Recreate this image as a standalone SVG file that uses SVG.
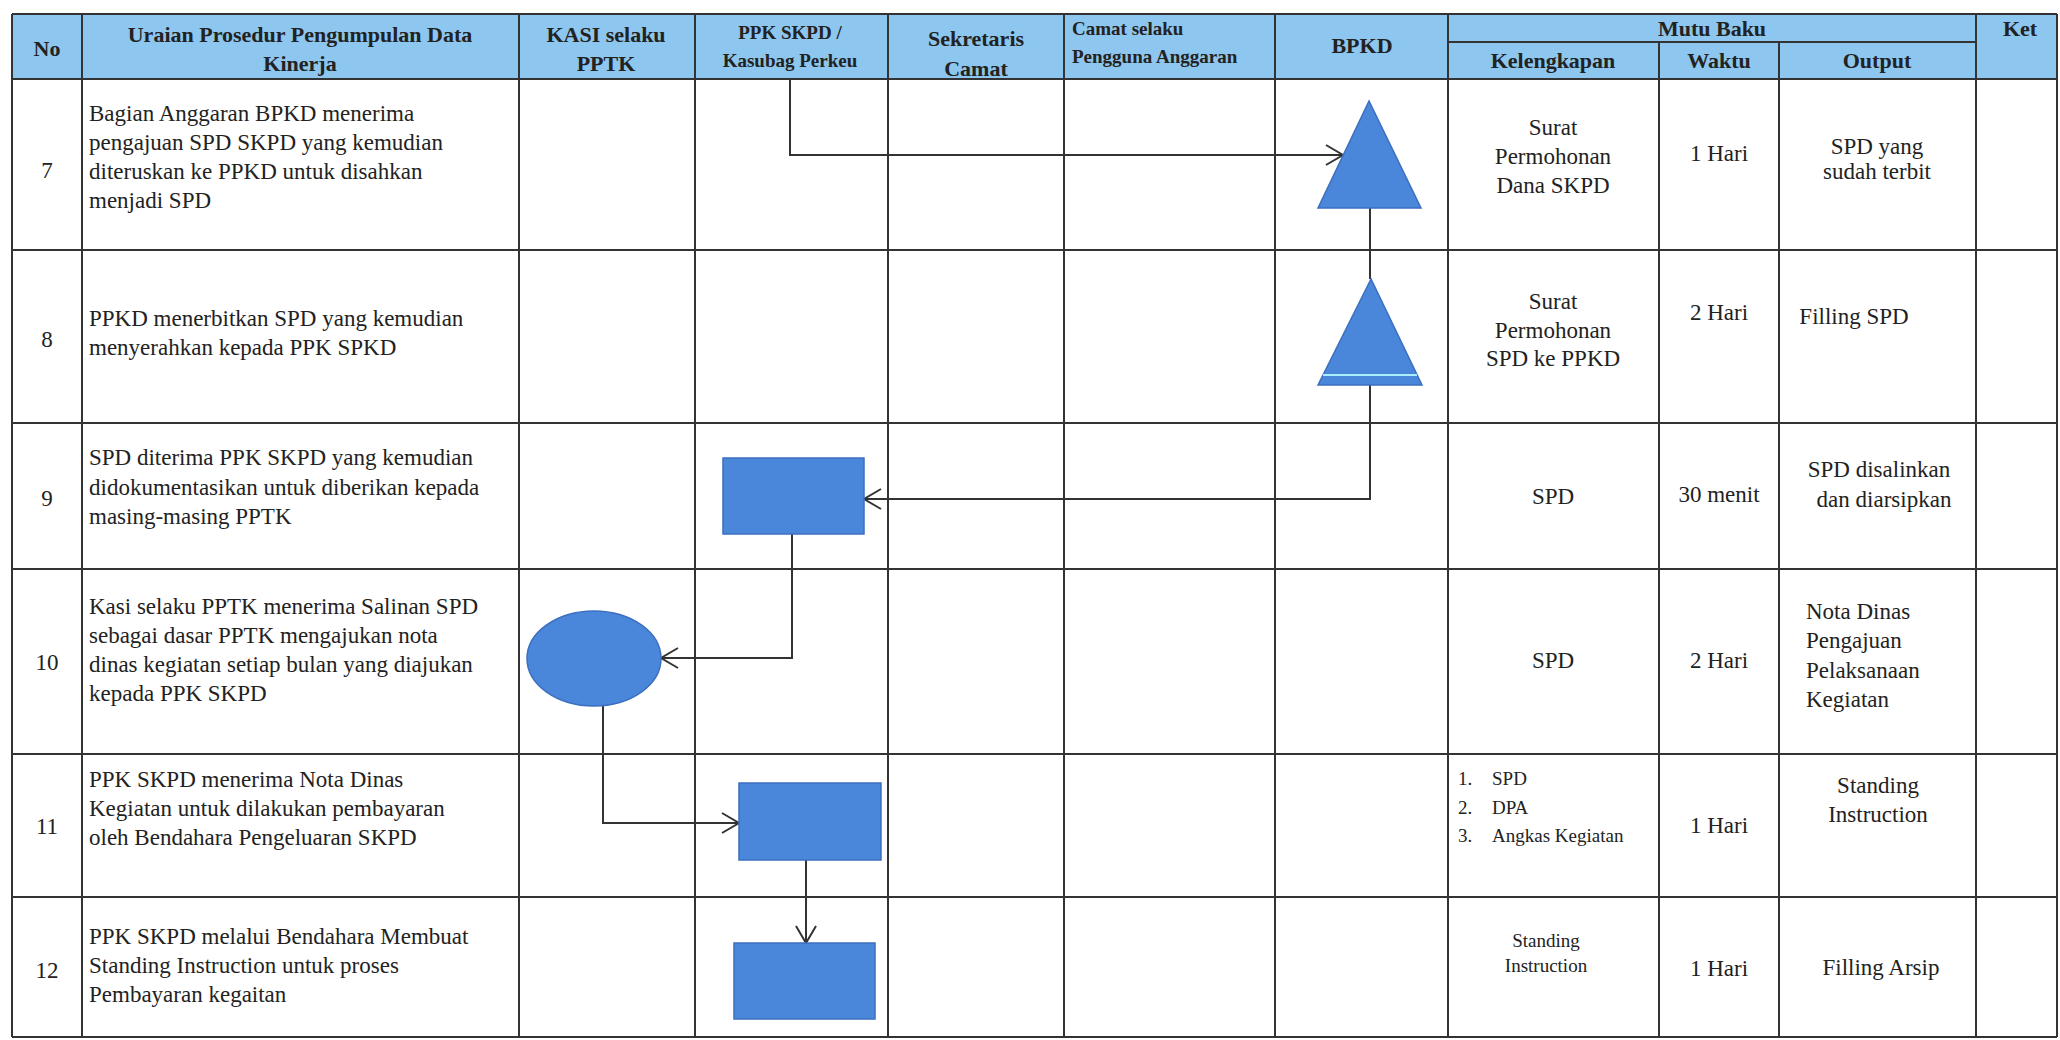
<svg xmlns="http://www.w3.org/2000/svg" width="2060" height="1040" viewBox="0 0 2060 1040">
<defs>
<style>
.grid{stroke:#333;stroke-width:2;fill:none}
.hd{font-family:"Liberation Serif","Times New Roman",serif;font-weight:bold;font-size:22px;fill:#222}
.hs{font-family:"Liberation Serif","Times New Roman",serif;font-weight:bold;font-size:19px;fill:#222}
.tx{font-family:"Liberation Serif","Times New Roman",serif;font-size:23px;fill:#222}
.sm{font-family:"Liberation Serif","Times New Roman",serif;font-size:19px;fill:#222}
.c{text-anchor:middle}
.shape{fill:#4A86DA;stroke:#3B6FBF;stroke-width:1.5}
.conn{stroke:#333;stroke-width:2;fill:none}
</style>
<marker id="arr" markerUnits="userSpaceOnUse" markerWidth="22" markerHeight="24" refX="18" refY="11" orient="auto">
<path d="M1,1 L18,11 L1,21" fill="none" stroke="#333" stroke-width="2"/>
</marker>
</defs>
<rect x="0" y="0" width="2060" height="1040" fill="#fff"/>
<g id="table">
<rect x="12" y="14" width="2045" height="65" fill="#8DC6EE"/>
<path class="grid" d="M12,14H2057 M1448,42H1976 M12,79H2057 M12,250H2057 M12,423H2057 M12,569H2057 M12,754H2057 M12,897H2057 M12,1037H2057 M12,14V1037 M82,14V1037 M519,14V1037 M695,14V1037 M888,14V1037 M1064,14V1037 M1275,14V1037 M1448,14V1037 M1659,42V1037 M1779,42V1037 M1976,14V1037 M2057,14V1037"/>
</g>
<g id="header">
<text class="hd c" x="47" y="56">No</text>
<text class="hd c" x="300" y="42">Uraian Prosedur Pengumpulan Data</text>
<text class="hd c" x="300" y="71">Kinerja</text>
<text class="hd c" x="606" y="42">KASI selaku</text>
<text class="hd c" x="606" y="71">PPTK</text>
<text class="hs c" x="790" y="39">PPK SKPD /</text>
<text class="hs c" x="790" y="67">Kasubag Perkeu</text>
<text class="hd c" x="976" y="46">Sekretaris</text>
<text class="hd c" x="976" y="76">Camat</text>
<text class="hs" x="1072" y="35">Camat selaku</text>
<text class="hs" x="1072" y="63">Pengguna Anggaran</text>
<text class="hd c" x="1362" y="53">BPKD</text>
<text class="hd c" x="1712" y="36">Mutu Baku</text>
<text class="hd c" x="1553" y="68">Kelengkapan</text>
<text class="hd c" x="1719" y="68">Waktu</text>
<text class="hd c" x="1877" y="68">Output</text>
<text class="hd c" x="2020" y="36">Ket</text>
</g>
<g id="row7">
<text class="tx c" x="47" y="178">7</text>
<text class="tx" x="89" y="121">Bagian Anggaran BPKD menerima</text>
<text class="tx" x="89" y="150">pengajuan SPD SKPD yang kemudian</text>
<text class="tx" x="89" y="179">diteruskan ke PPKD untuk disahkan</text>
<text class="tx" x="89" y="208">menjadi SPD</text>
<text class="tx c" x="1553" y="135">Surat</text>
<text class="tx c" x="1553" y="164">Permohonan</text>
<text class="tx c" x="1553" y="193">Dana SKPD</text>
<text class="tx c" x="1719" y="161">1 Hari</text>
<text class="tx c" x="1877" y="154">SPD yang</text>
<text class="tx c" x="1877" y="179">sudah terbit</text>
</g>
<g id="row8">
<text class="tx c" x="47" y="347">8</text>
<text class="tx" x="89" y="326">PPKD menerbitkan SPD yang kemudian</text>
<text class="tx" x="89" y="355">menyerahkan kepada PPK SPKD</text>
<text class="tx c" x="1553" y="309">Surat</text>
<text class="tx c" x="1553" y="338">Permohonan</text>
<text class="tx c" x="1553" y="366">SPD ke PPKD</text>
<text class="tx c" x="1719" y="320">2 Hari</text>
<text class="tx c" x="1854" y="324">Filling SPD</text>
</g>
<g id="row9">
<text class="tx c" x="47" y="506">9</text>
<text class="tx" x="89" y="465">SPD diterima PPK SKPD yang kemudian</text>
<text class="tx" x="89" y="495">didokumentasikan untuk diberikan kepada</text>
<text class="tx" x="89" y="524">masing-masing PPTK</text>
<text class="tx c" x="1553" y="504">SPD</text>
<text class="tx c" x="1719" y="502">30 menit</text>
<text class="tx c" x="1879" y="477">SPD disalinkan</text>
<text class="tx c" x="1884" y="507">dan diarsipkan</text>
</g>
<g id="row10">
<text class="tx c" x="47" y="670">10</text>
<text class="tx" x="89" y="614">Kasi selaku PPTK menerima Salinan SPD</text>
<text class="tx" x="89" y="643">sebagai dasar PPTK mengajukan nota</text>
<text class="tx" x="89" y="672">dinas kegiatan setiap bulan yang diajukan</text>
<text class="tx" x="89" y="701">kepada PPK SKPD</text>
<text class="tx c" x="1553" y="668">SPD</text>
<text class="tx c" x="1719" y="668">2 Hari</text>
<text class="tx" x="1806" y="619">Nota Dinas</text>
<text class="tx" x="1806" y="648">Pengajuan</text>
<text class="tx" x="1806" y="678">Pelaksanaan</text>
<text class="tx" x="1806" y="707">Kegiatan</text>
</g>
<g id="row11">
<text class="tx c" x="47" y="834">11</text>
<text class="tx" x="89" y="787">PPK SKPD menerima Nota Dinas</text>
<text class="tx" x="89" y="816">Kegiatan untuk dilakukan pembayaran</text>
<text class="tx" x="89" y="845">oleh Bendahara Pengeluaran SKPD</text>
<text class="sm" x="1458" y="785">1.</text>
<text class="sm" x="1492" y="785">SPD</text>
<text class="sm" x="1458" y="814">2.</text>
<text class="sm" x="1492" y="814">DPA</text>
<text class="sm" x="1458" y="842">3.</text>
<text class="sm" x="1492" y="842">Angkas Kegiatan</text>
<text class="tx c" x="1719" y="833">1 Hari</text>
<text class="tx c" x="1878" y="793">Standing</text>
<text class="tx c" x="1878" y="822">Instruction</text>
</g>
<g id="row12">
<text class="tx c" x="47" y="978">12</text>
<text class="tx" x="89" y="944">PPK SKPD melalui Bendahara Membuat</text>
<text class="tx" x="89" y="973">Standing Instruction untuk proses</text>
<text class="tx" x="89" y="1002">Pembayaran kegaitan</text>
<text class="sm c" x="1546" y="947">Standing</text>
<text class="sm c" x="1546" y="972">Instruction</text>
<text class="tx c" x="1719" y="976">1 Hari</text>
<text class="tx c" x="1881" y="975">Filling Arsip</text>
</g>
<g id="connectors">
<path class="conn" d="M790,79 V155 H1343" marker-end="url(#arr)"/>
<path class="conn" d="M1370,208 V279"/>
<path class="conn" d="M1370,385 V499 H864" marker-end="url(#arr)"/>
<path class="conn" d="M792,534 V658 H661" marker-end="url(#arr)"/>
<path class="conn" d="M603,706 V823 H739" marker-end="url(#arr)"/>
<path class="conn" d="M806,860 V943" marker-end="url(#arr)"/>
</g>
<g id="node-bpkd-7"><polygon class="shape" points="1369,101 1318,208 1421,208"/></g>
<g id="node-bpkd-8"><polygon class="shape" points="1371,279 1318,385 1422,385"/><line x1="1323" y1="375" x2="1417" y2="375" stroke="#A8EEFF" stroke-width="2"/></g>
<g id="node-ppk-9"><rect class="shape" x="723" y="458" width="141" height="76"/></g>
<g id="node-kasi-10"><ellipse class="shape" cx="594" cy="658.5" rx="67" ry="47.5"/></g>
<g id="node-ppk-11"><rect class="shape" x="739" y="783" width="142" height="77"/></g>
<g id="node-ppk-12"><rect class="shape" x="734" y="943" width="141" height="76"/></g>
</svg>
